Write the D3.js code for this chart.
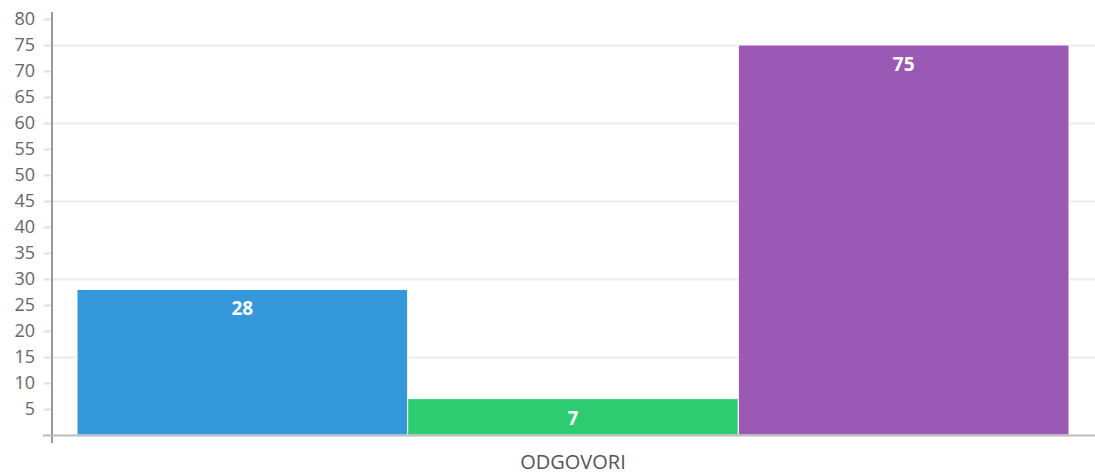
<!DOCTYPE html>
<html>
<head>
<meta charset="utf-8">
<script src="https://cdn.jsdelivr.net/npm/d3@7"></script>
<style>
  body { margin: 0; background: #fff; }
  text { font-family: "Open Sans", sans-serif; }
</style>
</head>
<body>
<svg id="chart" width="1095" height="474"></svg>
<script>
// Data
const category = "ODGOVORI";
const seriesNames = ["A", "B", "C"];
const seriesValues = [28, 7, 75];
const seriesColors = ["#3498db", "#2ecc71", "#9b59b6"];
const yTicks = [5, 10, 15, 20, 25, 30, 35, 40, 45, 50, 55, 60, 65, 70, 75, 80];
const gridTicks = [15, 30, 45, 60, 75];

const svg = d3.select("#chart");
const width = 1095, height = 474;
const margin = { top: 19, right: 0, bottom: 39, left: 52 };

const y = d3.scaleLinear()
    .domain([0, 80])
    .range([height - margin.bottom, margin.top]);

// bars sit in a band inside the plot area
const x = d3.scaleBand()
    .domain(seriesNames)
    .range([77, 1069])
    .paddingInner(0);

// gridlines
svg.append("g")
    .selectAll("line")
    .data(gridTicks)
    .join("line")
    .attr("x1", margin.left)
    .attr("x2", width)
    .attr("y1", d => Math.round(y(d)) + 0.5)
    .attr("y2", d => Math.round(y(d)) + 0.5)
    .attr("stroke", "#ebebeb")
    .attr("stroke-width", 2);

// bars
svg.append("g")
    .selectAll("rect")
    .data(seriesValues)
    .join("rect")
    .attr("x", (d, i) => x(seriesNames[i]))
    .attr("y", d => y(d))
    .attr("width", x.bandwidth())
    .attr("height", d => y(0) - y(d))
    .attr("fill", (d, i) => seriesColors[i])
    .attr("stroke", "#fff")
    .attr("stroke-width", 1);

// value labels
svg.append("g")
    .selectAll("text")
    .data(seriesValues)
    .join("text")
    .attr("x", (d, i) => x(seriesNames[i]) + x.bandwidth() / 2)
    .attr("y", d => y(d) + 26)
    .attr("text-anchor", "middle")
    .attr("font-size", "19px")
    .attr("font-weight", "bold")
    .attr("fill", "#fff")
    .text(d => d);

// y axis
const yAxis = svg.append("g")
    .attr("transform", `translate(${margin.left},0)`)
    .call(d3.axisLeft(y).tickValues(yTicks).tickSize(8).tickPadding(9));
yAxis.select(".domain").remove();
yAxis.selectAll(".tick line").attr("stroke", "#e0e0e0").attr("stroke-width", 2);
yAxis.selectAll(".tick text")
    .attr("font-size", "18px")
    .attr("font-family", "Open Sans, sans-serif")
    .attr("fill", "#666");

yAxis.append("line")
    .attr("x1", 0).attr("x2", 0)
    .attr("y1", 12).attr("y2", y(0) + 8)
    .attr("stroke", "#999")
    .attr("stroke-width", 2);

// x axis line
svg.append("line")
    .attr("x1", 43).attr("x2", width)
    .attr("y1", y(0) + 0.5).attr("y2", y(0) + 0.5)
    .attr("stroke", "#bbb")
    .attr("stroke-width", 2);

// category label
svg.append("text")
    .attr("x", (77 + 1069) / 2)
    .attr("y", 469)
    .attr("text-anchor", "middle")
    .attr("font-size", "20px")
    .attr("fill", "#555")
    .text(category);
</script>
</body>
</html>
